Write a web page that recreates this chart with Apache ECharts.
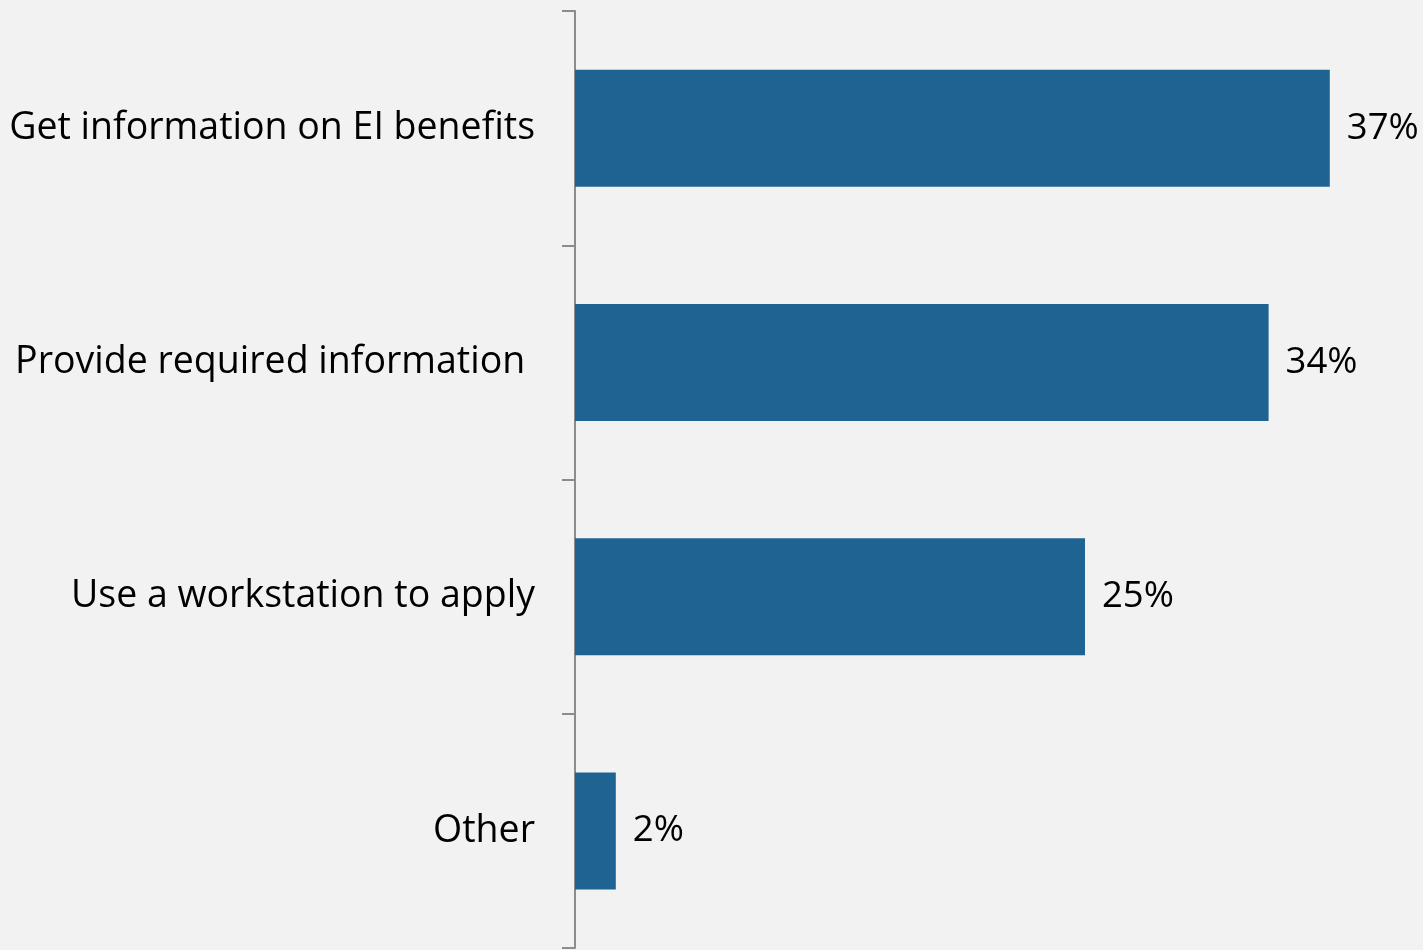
<!DOCTYPE html>
<html>
<head>
<meta charset="utf-8">
<script src="https://cdn.jsdelivr.net/npm/echarts@6/dist/echarts.min.js"></script>
<style>
  html, body { margin: 0; padding: 0; background: #f2f2f2; }
  #chart { width: 1423px; height: 950px; }
</style>
</head>
<body>
<div id="chart"></div>
<script>
// Reasons for using the service (share of respondents, %)
const categories = [
  'Get information on EI benefits',
  'Provide required information ',
  'Use a workstation to apply',
  'Other'
];
const values = [37, 34, 25, 2];

const chart = echarts.init(document.getElementById('chart'));
const FONT = 'Open Sans';

chart.setOption({
  backgroundColor: '#f2f2f2',
  animation: false,
  grid: { left: 575, right: 32, top: 11, bottom: 2, containLabel: false },
  xAxis: {
    type: 'value',
    min: 0,
    max: 40,
    show: false
  },
  yAxis: {
    type: 'category',
    data: categories,
    inverse: true,
    axisLine: { show: true, lineStyle: { color: '#8c8c8c', width: 2 } },
    axisTick: { show: true, length: 13, lineStyle: { color: '#8c8c8c', width: 2 } },
    axisLabel: {
      margin: 40,
      color: '#000000',
      fontFamily: FONT,
      fontSize: 37.5,
      padding: [8, 0, 0, 0]
    },
    splitLine: { show: false }
  },
  series: [{
    type: 'bar',
    data: values,
    barWidth: 117,
    itemStyle: { color: '#1f6392' },
    label: {
      show: true,
      position: 'right',
      distance: 17,
      formatter: '{c}%',
      color: '#000000',
      fontFamily: FONT,
      fontSize: 36.5,
      padding: [12, 0, 0, 0]
    }
  }]
});
</script>
</body>
</html>
